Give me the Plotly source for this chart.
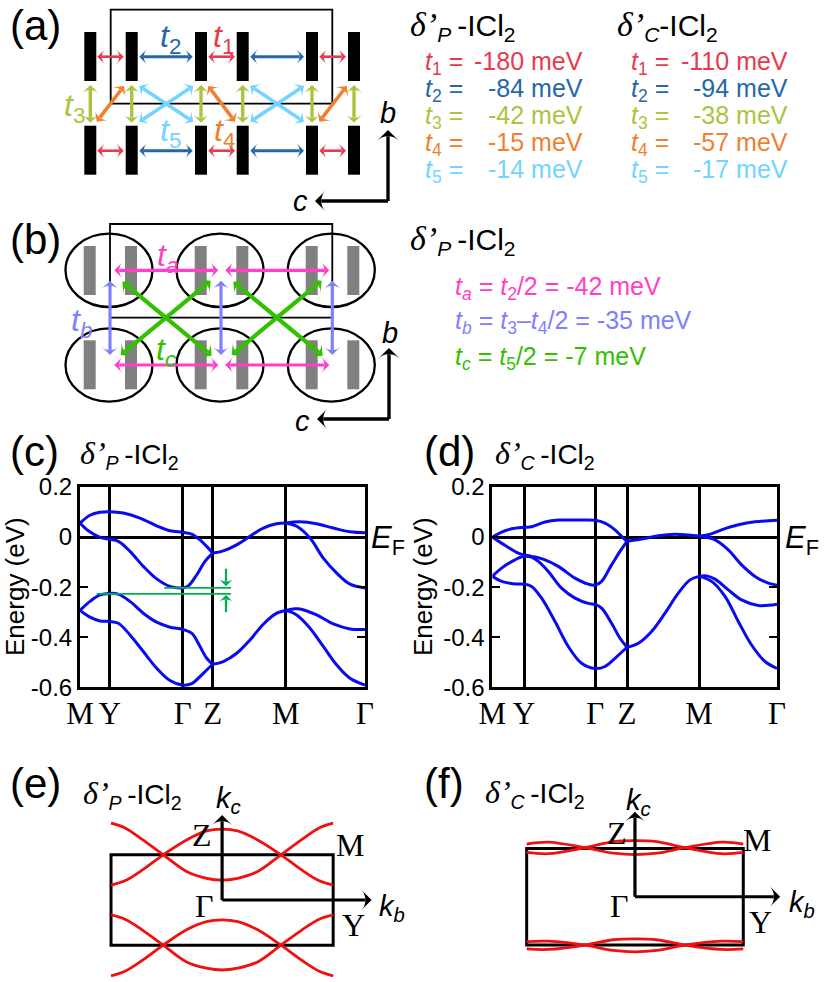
import math
import plotly.graph_objects as go

W, H = 830, 982
SANS = "Liberation Sans"
SERIF = "Liberation Serif"
BLUE = "#0a0af0"
RED = "#f01010"
GREEN = "#00b050"

# ---------- band structure, panel (c): k along M-Y-Gamma-Z-M-Gamma, energy in eV
SYM_C = [0, 0.297, 1.027, 1.327, 2.057, 2.85]
SYM_D = [0, 0.317, 1.03, 1.347, 2.067, 2.847]
SYM_LABELS = ["M", "Y", "Γ", "Z", "M", "Γ"]
E_TICKS = [0.2, 0, -0.2, -0.4, -0.6]
E_TICK_LABELS = ["0.2", "0", "-0.2", "-0.4", "-0.6"]

C1_K = [0, 0.1, 0.2, 0.297, 0.433, 0.6, 0.767, 0.9, 1.027, 1.117, 1.2, 1.267, 1.327]
C1_E = [0.056, 0.087, 0.099, 0.101, 0.096, 0.076, 0.045, 0.025, 0.019, 0.012, -0.011, -0.037, -0.064]
C2_K = [0, 0.083, 0.2, 0.297, 0.383, 0.5, 0.633, 0.767, 0.9, 1.027, 1.083, 1.167, 1.25, 1.327]
C2_E = [0.056, 0.025, -0.001, -0.009, -0.017, -0.057, -0.117, -0.167, -0.197, -0.203, -0.195, -0.151, -0.097, -0.064]
C3_K = [1.327, 1.433, 1.567, 1.7, 1.833, 1.967, 2.057]
C3_E = [-0.064, -0.055, -0.031, 0.003, 0.036, 0.053, 0.056]
C4_K = [2.057, 2.2, 2.367, 2.533, 2.7, 2.85]
C4_E = [0.056, 0.061, 0.053, 0.036, 0.021, 0.017]
C5_K = [2.057, 2.167, 2.3, 2.433, 2.567, 2.7, 2.85]
C5_E = [0.056, 0.043, -0.004, -0.084, -0.144, -0.188, -0.203]
C6_K = [0, 0.1, 0.2, 0.297, 0.383, 0.5, 0.633, 0.767, 0.9, 1.027, 1.117, 1.2, 1.267, 1.327]
C6_E = [-0.293, -0.257, -0.231, -0.225, -0.228, -0.257, -0.304, -0.34, -0.36, -0.369, -0.384, -0.437, -0.484, -0.508]
C7_K = [0, 0.1, 0.2, 0.297, 0.383, 0.5, 0.633, 0.767, 0.9, 1.027, 1.117, 1.2, 1.267, 1.327]
C7_E = [-0.293, -0.32, -0.335, -0.337, -0.344, -0.391, -0.457, -0.524, -0.573, -0.591, -0.585, -0.557, -0.531, -0.508]
C8_K = [1.327, 1.433, 1.567, 1.7, 1.833, 1.967, 2.057]
C8_E = [-0.508, -0.497, -0.464, -0.411, -0.348, -0.304, -0.293]
C9_K = [2.057, 2.133, 2.2, 2.367, 2.533, 2.7, 2.85]
C9_E = [-0.293, -0.287, -0.287, -0.311, -0.347, -0.367, -0.369]
C10_K = [2.057, 2.167, 2.3, 2.433, 2.567, 2.7, 2.85]
C10_E = [-0.293, -0.311, -0.364, -0.437, -0.511, -0.564, -0.591]

# ---------- band structure, panel (d)
D1_K = [0, 0.093, 0.193, 0.317, 0.393, 0.527, 0.66, 0.827, 1.03, 1.127, 1.227, 1.293, 1.347]
D1_E = [0, 0.02, 0.033, 0.039, 0.041, 0.06, 0.068, 0.068, 0.067, 0.056, 0.029, 0.003, -0.017]
D2_K = [1.347, 1.493, 1.66, 1.827, 1.96, 2.067]
D2_E = [-0.017, -0.008, 0.005, 0.011, 0.008, 0.004]
D3_K = [2.067, 2.16, 2.293, 2.46, 2.627, 2.847]
D3_E = [0.004, 0.009, 0.029, 0.049, 0.061, 0.067]
D4_K = [0, 0.127, 0.26, 0.317, 0.393, 0.527, 0.66, 0.827, 0.96, 1.03, 1.093, 1.193, 1.277, 1.347]
D4_E = [0, -0.033, -0.064, -0.071, -0.077, -0.091, -0.117, -0.164, -0.188, -0.192, -0.177, -0.111, -0.057, -0.017]
D5_K = [2.067, 2.227, 2.36, 2.493, 2.627, 2.76, 2.847]
D5_E = [0.004, -0.011, -0.051, -0.111, -0.157, -0.184, -0.192]
D6_K = [0, 0.093, 0.227, 0.317, 0.393, 0.46, 0.56, 0.693, 0.827, 0.96, 1.03, 1.093, 1.193, 1.277, 1.347]
D6_E = [-0.157, -0.124, -0.091, -0.077, -0.08, -0.097, -0.137, -0.204, -0.244, -0.265, -0.269, -0.284, -0.344, -0.404, -0.44]
D7_K = [1.347, 1.46, 1.593, 1.727, 1.86, 1.977, 2.067]
D7_E = [-0.44, -0.424, -0.377, -0.304, -0.224, -0.171, -0.157]
D8_K = [2.067, 2.143, 2.227, 2.36, 2.493, 2.66, 2.847]
D8_E = [-0.157, -0.155, -0.168, -0.211, -0.251, -0.273, -0.268]
D9_K = [0, 0.093, 0.227, 0.317, 0.393, 0.493, 0.627, 0.76, 0.893, 1.03, 1.127, 1.227, 1.347]
D9_E = [-0.157, -0.177, -0.187, -0.188, -0.197, -0.244, -0.337, -0.437, -0.504, -0.525, -0.517, -0.484, -0.44]
D10_K = [2.067, 2.193, 2.327, 2.46, 2.593, 2.727, 2.847]
D10_E = [-0.157, -0.177, -0.237, -0.337, -0.431, -0.497, -0.524]

# gap markers in (c)
GAP_LEVELS = [-0.203, -0.227]
GAP_STARTS = [0.843, 0.167]
GAP_END = 1.51
GAP_ARROW_K = 1.46

# ---------- Fermi surfaces (normalised k_b, k_c)
FS_E_K = [-1, -0.87, -0.72, -0.53, -0.32, -0.14, 0, 0.14, 0.32, 0.53, 0.72, 0.87, 1]
FS_E_1 = [0.33, 0.43, 0.66, 1.0, 1.33, 1.53, 1.57, 1.53, 1.33, 1.0, 0.66, 0.43, 0.33]
FS_E_2 = [1.70, 1.59, 1.34, 1.0, 0.63, 0.48, 0.44, 0.48, 0.63, 1.0, 1.34, 1.59, 1.70]
FS_E_3 = [-0.33, -0.43, -0.66, -1.0, -1.37, -1.51, -1.55, -1.51, -1.37, -1.0, -0.66, -0.43, -0.33]
FS_E_4 = [-1.68, -1.57, -1.34, -1.0, -0.66, -0.48, -0.44, -0.48, -0.66, -1.0, -1.34, -1.57, -1.68]
FS_F_K = [-1, -0.8, -0.46, -0.2, 0, 0.2, 0.46, 0.8, 1]
FS_F_1 = [0.917, 0.89, 1.014, 1.14, 1.16, 1.14, 1.014, 0.89, 0.917]
FS_F_2 = [1.09, 1.13, 1.014, 0.9, 0.87, 0.9, 1.014, 1.13, 1.09]
FS_F_3 = [-1.08, -1.09, -1.0, -0.89, -0.87, -0.89, -1.0, -1.09, -1.08]
FS_F_4 = [-0.93, -0.92, -1.0, -1.11, -1.14, -1.11, -1.0, -0.92, -0.93]

# ---------- transfer integrals
T_COLORS = ["#e83a4c", "#2468a8", "#a9c53f", "#f07f30", "#72d4ff"]
T_P = [-180, -84, -42, -15, -14]
T_C = [-110, -94, -38, -57, -17]
TA_COLOR, TB_COLOR, TC_COLOR = "#ff3fc8", "#8080ff", "#33c000"

# ---------- schematic lattice (a), (b), in page pixels of the overlay axis
ROD_X_A = [90.3, 131.7, 201, 242.7, 312, 354]
ROD_X_B = [89.7, 131, 200.7, 242.3, 311.7, 353.3]
ROD_ROWS_A = [(32, 81), (125.7, 174.7)]
ROD_ROWS_B = [(246, 295), (340.3, 389.3)]
ELLIPSE_X = [109, 220, 331.3]
ELLIPSE_Y = [270.3, 365]

# screen pixels per data unit of each axis pair, used to inset arrow shafts under their heads
PX_PER_UNIT = {"x5": (1, 1), "x": (100, 250.4), "x3": (111.17, 45.17), "x4": (108.3, 48.33)}


def delta(sub, size, gap=True):
    big = round(size * 1.15)
    d = f'<span style="font-family:{SERIF};font-size:{big}px"><i>δ’</i></span>'
    return d + f"<sub><i>{sub}</i></sub>" + ("\u2009" if gap else "") + "-ICl<sub>2</sub>"


def tl(name, sub):
    return f"<i>{name}</i><sub><i>{sub}</i></sub>" if not str(sub).isdigit() else f"<i>{name}</i><sub>{sub}</sub>"


fig = go.Figure()
OV = ("x5", "y5")
ann = []
shapes = []
arrows = []


def text(x, y, s, size=25, color="black", fam=SANS, xanchor="left", yanchor="middle", angle=0):
    ann.append(dict(x=x, y=y, xref=OV[0], yref=OV[1], text=s, showarrow=False, textangle=angle,
                    xanchor=xanchor, yanchor=yanchor, font=dict(size=size, color=color, family=fam)))


def arrow(x0, y0, x1, y1, color, width=2.4, both=True, xa="x5", ya="y5", size=11):
    arrows.append((x0, y0, x1, y1, color, width, both, xa, ya, size))


def draw_arrows():
    for x0, y0, x1, y1, color, width, both, xa, ya, size in arrows:
        sx, sy = PX_PER_UNIT[xa]
        dy_sign = 1 if ya == "y5" else -1     # the page-pixel overlay axis runs downward
        dxp, dyp = (x1 - x0) * sx, (y1 - y0) * sy * dy_sign
        length = math.hypot(dxp, dyp)
        a = math.degrees(math.atan2(dxp, -dyp))
        inset = 0.42 * size / length
        ux, uy = (x1 - x0) * inset, (y1 - y0) * inset
        sh_x = [x0 + ux if both else x0, x1 - ux]
        sh_y = [y0 + uy if both else y0, y1 - uy]
        fig.add_trace(go.Scatter(x=sh_x, y=sh_y, xaxis=xa, yaxis=ya, mode="lines", showlegend=False,
                                 hoverinfo="skip", line=dict(color=color, width=width)))
        fig.add_trace(go.Scatter(
            x=[x0, x1] if both else [x1], y=[y0, y1] if both else [y1], xaxis=xa, yaxis=ya, mode="markers",
            showlegend=False, hoverinfo="skip",
            marker=dict(symbol="arrow-wide", color=color, line=dict(width=0), size=size,
                        angle=[a + 180, a] if both else [a])))


def rect(x0, y0, x1, y1, fill=None, line=None, lw=0, xr="x5", yr="y5"):
    shapes.append(dict(type="rect", xref=xr, yref=yr, x0=x0, y0=y0, x1=x1, y1=y1, layer="below",
                       fillcolor=fill or "rgba(0,0,0,0)", line=dict(color=line or "rgba(0,0,0,0)", width=lw)))


def band(k, e, xa, ya):
    fig.add_trace(go.Scatter(x=k, y=e, xaxis=xa, yaxis=ya, mode="lines", showlegend=False, hoverinfo="skip",
                             line=dict(color=BLUE, width=3, shape="spline", smoothing=1.0)))


def fs(k, v, xa, ya):
    fig.add_trace(go.Scatter(x=k, y=v, xaxis=xa, yaxis=ya, mode="lines", showlegend=False, hoverinfo="skip",
                             line=dict(color=RED, width=2.8, shape="spline", smoothing=1.0)))


for k, e in [(C1_K, C1_E), (C2_K, C2_E), (C3_K, C3_E), (C4_K, C4_E), (C5_K, C5_E),
             (C6_K, C6_E), (C7_K, C7_E), (C8_K, C8_E), (C9_K, C9_E), (C10_K, C10_E)]:
    band(k, e, "x", "y")
for lev, st in zip(GAP_LEVELS, GAP_STARTS):
    fig.add_trace(go.Scatter(x=[st, GAP_END], y=[lev, lev], xaxis="x", yaxis="y", mode="lines", showlegend=False,
                             hoverinfo="skip", line=dict(color=GREEN, width=1.6)))
for k, e in [(D1_K, D1_E), (D2_K, D2_E), (D3_K, D3_E), (D4_K, D4_E), (D5_K, D5_E),
             (D6_K, D6_E), (D7_K, D7_E), (D8_K, D8_E), (D9_K, D9_E), (D10_K, D10_E)]:
    band(k, e, "x2", "y2")
for v in [FS_E_1, FS_E_2, FS_E_3, FS_E_4]:
    fs(FS_E_K, v, "x3", "y3")
for v in [FS_F_1, FS_F_2, FS_F_3, FS_F_4]:
    fs(FS_F_K, v, "x4", "y4")

# ---- panel (a)
rect(110.7, 9.7, 332.3, 103.7, line="black", lw=1.8)
for y0, y1 in ROD_ROWS_A:
    for x in ROD_X_A:
        rect(x - 6, y0, x + 6, y1, fill="black")
for y in [56.7, 150.7]:
    for x0, x1 in [(97.3, 123.7), (208.3, 235), (319.3, 346)]:
        arrow(x0, y, x1, y, T_COLORS[0], 2.6, size=11)
    for x0, x1 in [(139.3, 192.7), (250.3, 304)]:
        arrow(x0, y, x1, y, T_COLORS[1], 3, size=11)
for x in ROD_X_A:
    arrow(x, 85, x, 122.7, T_COLORS[2], 3.4, size=12)
for x0, x1 in [(139.3, 193.3), (250.3, 304)]:
    arrow(x0, 86, x1, 121.7, T_COLORS[4], 3.6, size=12)
    arrow(x1, 86, x0, 121.7, T_COLORS[4], 3.6, size=12)
for x0, x1 in [(124, 96.7), (208.3, 235), (346.7, 319.3)]:
    arrow(x0, 86, x1, 121.7, T_COLORS[3], 3.6, size=12)
text(8, 25, "(a)", 42)
text(170, 38, tl("t", 2), 32, T_COLORS[1], xanchor="center")
text(223, 38, tl("t", 1), 32, T_COLORS[0], xanchor="center")
text(74, 107, tl("t", 3), 32, T_COLORS[2], xanchor="center")
text(170, 132, tl("t", 5), 32, T_COLORS[4], xanchor="center")
text(224, 132, tl("t", 4), 32, T_COLORS[3], xanchor="center")
arrow(388, 201, 388, 130, "black", 3.4, both=False, size=15)
arrow(388, 201, 315, 201, "black", 3.4, both=False, size=15)
text(388, 113, "<i>b</i>", 29, xanchor="center")
text(300, 201, "<i>c</i>", 29, xanchor="center")

# ---- parameter tables
text(408, 26, delta("P", 30), 30)
text(615, 26, delta("C", 30, gap=False), 30)
for i in range(5):
    y = 63 + 27 * i
    col = T_COLORS[i]
    text(423, y, tl("t", i + 1) + " =", 25, col)
    text(585, y - 2, f"{T_P[i]} meV", 25, col, xanchor="right")
    text(629, y, tl("t", i + 1) + " =", 25, col)
    text(790, y - 2, f"{T_C[i]} meV", 25, col, xanchor="right")

# ---- panel (b)
rect(110, 224, 332.3, 317.7, line="black", lw=1.8)
for y0, y1 in ROD_ROWS_B:
    for x in ROD_X_B:
        rect(x - 6, y0, x + 6, y1, fill="#808080")
for cy in ELLIPSE_Y:
    for cx in ELLIPSE_X:
        shapes.append(dict(type="circle", xref=OV[0], yref=OV[1], x0=cx - 43.5, x1=cx + 43.5, y0=cy - 36.7,
                           y1=cy + 36.7, layer="below", line=dict(color="black", width=2.3)))
for x in ELLIPSE_X:
    arrow(x + 1, 280.7, x + 1, 355, TB_COLOR, 3.2, size=12)
for y in [270.3, 365]:
    arrow(114.3, y, 218.3, y, TA_COLOR, 3.2, size=12)
    arrow(225.3, y, 329.3, y, TA_COLOR, 3.2, size=12)
arrow(122.3, 281.7, 211.7, 355.7, TC_COLOR, 4.2, size=13)
arrow(210.7, 280.7, 120.7, 355, TC_COLOR, 4.2, size=13)
arrow(233.3, 281.7, 322.7, 355.7, TC_COLOR, 4.2, size=13)
arrow(321.7, 280.7, 231.7, 355, TC_COLOR, 4.2, size=13)
text(8, 239, "(b)", 42)
text(167, 257, tl("t", "a"), 32, TA_COLOR, xanchor="center")
text(81, 322, tl("t", "b"), 32, TB_COLOR, xanchor="center")
text(166, 351, tl("t", "c"), 32, TC_COLOR, xanchor="center")
arrow(389, 419, 389, 348, "black", 3.4, both=False, size=15)
arrow(389, 419, 317, 419, "black", 3.4, both=False, size=15)
text(390, 333, "<i>b</i>", 29, xanchor="center")
text(302, 421, "<i>c</i>", 29, xanchor="center")
text(408, 240, delta("P", 30), 30)
text(453, 288, tl("t", "a") + " = " + tl("t", 2) + "/2 = -42 meV", 25, TA_COLOR)
text(453, 322, tl("t", "b") + " = " + tl("t", 3) + "–" + tl("t", 4) + "/2 = -35 meV", 25, TB_COLOR)
text(453, 358, tl("t", "c") + " = " + tl("t", 5) + "/2 = -7 meV", 25, TC_COLOR)

# ---- panels (c) (d) text
text(8, 451, "(c)", 42)
text(78, 454, delta("P", 28), 28)
text(422, 451, "(d)", 42)
text(493, 454, delta("C", 28), 28)
text(15, 587, "Energy (eV)", 26, xanchor="center", angle=-90)
text(423, 587, "Energy (eV)", 26, xanchor="center", angle=-90)
text(388, 540, "<i>E</i><sub>F</sub>", 31, xanchor="center")
text(802, 540, "<i>E</i><sub>F</sub>", 31, xanchor="center")
arrow(GAP_ARROW_K, -0.127, GAP_ARROW_K, -0.196, GREEN, 2.2, both=False, xa="x", ya="y", size=11)
arrow(GAP_ARROW_K, -0.30, GAP_ARROW_K, -0.231, GREEN, 2.2, both=False, xa="x", ya="y", size=11)

# ---- panels (e) (f) text and axes
text(8, 783, "(e)", 42)
text(81, 794, delta("P", 28), 28)
text(422, 783, "(f)", 42)
text(483, 793, delta("C", 28), 28)
rect(-1, -1, 1, 1, line="black", lw=3, xr="x3", yr="y3")
rect(-1, -1, 1, 1, line="black", lw=3, xr="x4", yr="y4")
arrow(0, 0, 0, 1.88, "black", 3.2, both=False, xa="x3", ya="y3", size=15)
arrow(0, 0, 1.346, 0, "black", 3.2, both=False, xa="x3", ya="y3", size=15)
arrow(0, 0, 0, 1.76, "black", 3.2, both=False, xa="x4", ya="y4", size=15)
arrow(0, 0, 1.34, 0, "black", 3.2, both=False, xa="x4", ya="y4", size=15)
text(228, 800, "<i>k</i><sub><i>c</i></sub>", 29, xanchor="center")
text(392, 908, "<i>k</i><sub><i>b</i></sub>", 29, xanchor="center")
text(638, 802, "<i>k</i><sub><i>c</i></sub>", 29, xanchor="center")
text(802, 904, "<i>k</i><sub><i>b</i></sub>", 29, xanchor="center")
for x, y, s in [(202, 835, "Z"), (350, 845, "M"), (204, 906, "Γ"), (353, 925, "Y"),
                (617, 833, "Z"), (757, 840, "M"), (619, 906, "Γ"), (760, 922, "Y")]:
    text(x, y, s, 32, fam=SERIF, xanchor="center")

draw_arrows()


def band_axes(left, right, sym):
    top, bot = 487, 687.3
    xa = dict(domain=[left / W, right / W], range=[0, sym[-1]], tickmode="array", tickvals=sym, ticktext=SYM_LABELS,
              tickangle=0, ticks="", showgrid=True, gridcolor="black", gridwidth=2.5, zeroline=False, showline=True,
              linecolor="black", linewidth=3, mirror=True, tickfont=dict(family=SERIF, size=31, color="black"),
              ticklabelstandoff=-4, automargin=False)
    ya = dict(domain=[1 - bot / H, 1 - top / H], range=[-0.6, 0.2], tickmode="array", tickvals=E_TICKS,
              ticktext=E_TICK_LABELS, ticks="inside", ticklen=8, tickwidth=2.4, tickcolor="black", showgrid=False,
              zeroline=True, zerolinecolor="black", zerolinewidth=2.6, showline=True, linecolor="black",
              linewidth=3, mirror="allticks", tickfont=dict(family=SANS, size=24, color="black"), automargin=False)
    return xa, ya


def fs_axes(left, right, top, bot, xr, yr):
    xa = dict(domain=[left / W, right / W], range=xr, visible=False, showgrid=False, zeroline=False, automargin=False)
    ya = dict(domain=[1 - bot / H, 1 - top / H], range=yr, visible=False, showgrid=False, zeroline=False,
              automargin=False)
    return xa, ya


xc, yc = band_axes(80, 365, SYM_C)
xd, yd = band_axes(492.3, 777, SYM_D)
# frame of (e): x 111-333, y 854.8-945.2; of (f): x 526.7-743.3, y 848.4-945
xe, ye = fs_axes(108.8, 377.6, 811.9, 981.3, [-1.02, 1.4], [-1.8, 1.95])
xf, yf = fs_axes(524.5, 786.6, 807.3, 964.4, [-1.02, 1.4], [-1.4, 1.85])
xc.update(anchor="y"); yc.update(anchor="x")
xd.update(anchor="y2"); yd.update(anchor="x2")
xe.update(anchor="y3"); ye.update(anchor="x3")
xf.update(anchor="y4"); yf.update(anchor="x4")
hidden = dict(visible=False, showgrid=False, zeroline=False, automargin=False)

fig.update_layout(
    template="none",
    width=W, height=H, margin=dict(l=0, r=0, t=0, b=0, pad=0, autoexpand=False), paper_bgcolor="white",
    plot_bgcolor="rgba(0,0,0,0)", showlegend=False, font=dict(family=SANS, color="black"),
    xaxis=xc, yaxis=yc, xaxis2=xd, yaxis2=yd, xaxis3=xe, yaxis3=ye, xaxis4=xf, yaxis4=yf,
    xaxis5=dict(domain=[0, 1], range=[0, W], anchor="y5", **hidden),
    yaxis5=dict(domain=[0, 1], range=[H, 0], anchor="x5", **hidden),
    shapes=shapes, annotations=ann,
)
fig.write_html("out.html", post_script="document.body.style.margin='0';", config=dict(displayModeBar=False))
